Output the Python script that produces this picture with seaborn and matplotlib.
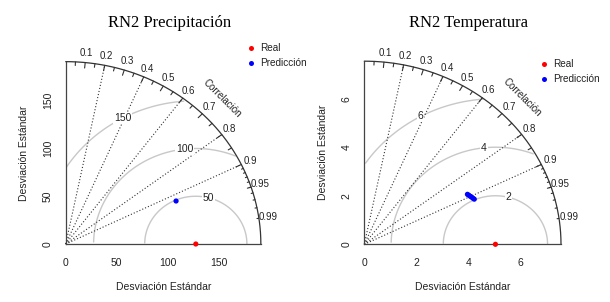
import numpy as np
import pandas as pd
import matplotlib
matplotlib.use("Agg")
import matplotlib.pyplot as plt
import seaborn as sns

# values
titles = ["RN2 Precipitación", "RN2 Temperatura"]
ref_sd = [127.3, 5.03]
precip_pred_sd = [117.0]
precip_pred_cor = [0.923]
temp_pred_sd = [4.46, 4.49, 4.52, 4.55, 4.58, 4.61]
temp_pred_cor = [0.887, 0.893, 0.899, 0.904, 0.910, 0.915]
precip_ticks = [0, 50, 100, 150]
temp_ticks = [0, 2, 4, 6]
precip_gamma = [50, 100, 150]
temp_gamma = [2, 4, 6]
cor_labels = [0.1, 0.2, 0.3, 0.4, 0.5, 0.6, 0.7, 0.8, 0.9, 0.95, 0.99]
cor_lines = [0.2, 0.4, 0.6, 0.8, 0.9]
legend_labels = ["Real", "Predicción"]

sns.set_style("white")
plt.rcParams["font.family"] = ["Liberation Sans", "DejaVu Sans"]

W, H = 610, 302
fig = plt.figure(figsize=(W / 100, H / 100), dpi=100)
txt_col = "#222222"
line_col = "#333333"


def fx(px):
    return px / W


def fy(py):
    return (H - py) / H


def taylor(x0, y0, sx, sy, sd_r, pred_sd, pred_cor, ticks, gamma, title, title_x, leg_xy):
    maxsd = 1.5 * sd_r
    lim = 1.2 * maxsd
    ax = fig.add_axes([fx(x0), fy(y0), lim * sx / W, lim * sy / H])
    ax.set_xlim(0, lim)
    ax.set_ylim(0, lim)
    for s in ["top", "right"]:
        ax.spines[s].set_visible(False)
    for s in ["bottom", "left"]:
        ax.spines[s].set_bounds(0, maxsd)
        ax.spines[s].set_color("#444444")
        ax.spines[s].set_linewidth(0.9)
    ax.set_xticks(ticks)
    ax.set_yticks(ticks)
    ax.set_xticklabels([str(t) for t in ticks])
    ax.set_yticklabels([str(t) for t in ticks], rotation=90, va="center")
    ax.tick_params(direction="out", length=4.1, width=0.8, colors="#444444",
                   labelcolor=txt_col, labelsize=7.5)
    ax.tick_params(axis="x", pad=6)
    ax.tick_params(axis="y", pad=5)
    ax.grid(False)

    # outer correlation arc
    th = np.linspace(0, np.pi / 2, 200)
    ax.plot(maxsd * np.cos(th), maxsd * np.sin(th), color=line_col, lw=0.9, clip_on=False)

    # dotted correlation rays
    for c in cor_lines:
        ax.plot([0, maxsd * c], [0, maxsd * np.sqrt(1 - c ** 2)], color=line_col,
                lw=0.8, ls=(0, (1, 1.8)), clip_on=False)

    # tick marks on the arc
    for vals, frac in [(np.arange(0.1, 0.95, 0.1), 0.97),
                       (np.arange(0.05, 0.96, 0.1), 0.98),
                       (np.arange(0.91, 0.995, 0.01), 0.99)]:
        a = np.arccos(vals)
        for ang in a:
            ax.plot([np.cos(ang) * maxsd, np.cos(ang) * frac * maxsd],
                    [np.sin(ang) * maxsd, np.sin(ang) * frac * maxsd],
                    color=line_col, lw=0.8, clip_on=False)

    for c in cor_labels:
        ang = np.arccos(c)
        ax.text(1.05 * maxsd * np.cos(ang), 1.05 * maxsd * np.sin(ang), f"{c:g}",
                ha="center", va="center", fontsize=7, color=txt_col, clip_on=False)
    ax.text(0.8 * maxsd, 0.8 * maxsd, "Correlación", rotation=-45, ha="center",
            va="center", fontsize=7, color=txt_col, rotation_mode="anchor")

    # centred RMS difference arcs
    t = np.arange(0, np.pi, 0.03)
    labelpos = np.linspace(45, 70, len(gamma)).astype(int)
    for g, lp in zip(gamma, labelpos):
        xc = np.cos(t) * g + sd_r
        yc = np.sin(t) * g
        neg = np.where(xc < 0)[0]
        end = neg[0] if len(neg) else len(t)
        out = np.where(xc ** 2 + yc ** 2 > maxsd ** 2)[0]
        start = out.max() + 1 if len(out) else 0
        ax.plot(xc[start:end], yc[start:end], color="#c8c8c8", lw=1.0, zorder=1)
        ax.text(xc[lp - 1], yc[lp - 1], str(g), ha="center", va="center", fontsize=7.5,
                color=txt_col, zorder=3,
                bbox=dict(facecolor="white", edgecolor="none", pad=0.6))

    # points
    pts = pd.DataFrame({
        "x": [sd_r] + [s * c for s, c in zip(pred_sd, pred_cor)],
        "y": [0.0] + [s * np.sqrt(1 - c ** 2) for s, c in zip(pred_sd, pred_cor)],
        "kind": ["Real"] + ["Predicción"] * len(pred_sd),
    })
    sns.scatterplot(data=pts, x="x", y="y", hue="kind",
                    palette={"Real": "#ff0000", "Predicción": "#0000ff"},
                    s=14, edgecolor="none", legend=False, ax=ax, zorder=5, clip_on=False)
    ax.set_xlabel("")
    ax.set_ylabel("")

    ax.text(maxsd / 2, -(287 - y0) / sy, "Desviación Estándar", ha="center", va="center",
            fontsize=7.5, color=txt_col, clip_on=False)
    ax.text(-(x0 - (x0 - 41.5)) / sx, maxsd / 2, "Desviación Estándar", ha="center",
            va="center", rotation=90, fontsize=7.5, color=txt_col, clip_on=False)

    fig.text(fx(title_x), fy(27), title, ha="center", va="baseline",
             family="Liberation Serif", fontsize=12, color="black")

    lx, ly = leg_xy
    for i, (lab, col) in enumerate(zip(legend_labels, ["#ff0000", "#0000ff"])):
        yy = ly + i * 14.5
        fig.add_artist(plt.Line2D([fx(lx)], [fy(yy)], marker="o", markersize=3.6,
                                  color=col, markeredgewidth=0, transform=fig.transFigure))
        fig.text(fx(lx + 9), fy(yy), lab, ha="left", va="center", fontsize=7.2, color=txt_col)
    return ax


taylor(65.7, 244.0, 1.022, 0.955, ref_sd[0], precip_pred_sd, precip_pred_cor,
       precip_ticks, precip_gamma, titles[0], 169.5, (250.7, 48.0))
taylor(364.3, 244.3, 26.07, 24.27, ref_sd[1], temp_pred_sd, temp_pred_cor,
       temp_ticks, temp_gamma, titles[1], 468.3, (544.3, 64.3))

fig.savefig("out.png", dpi=100, facecolor="white")
